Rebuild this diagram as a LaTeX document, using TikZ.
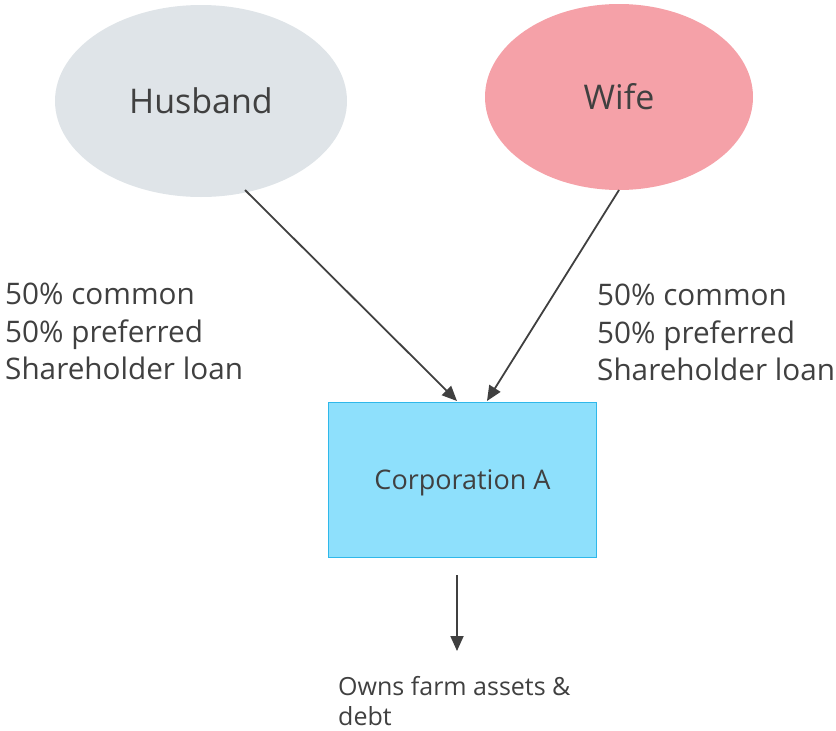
\documentclass[tikz,border=0pt]{standalone}
\usepackage{fontspec}
\setmainfont{Open Sans}
\usetikzlibrary{shapes.geometric,arrows.meta}
\definecolor{ink}{HTML}{404040}
\definecolor{husbandfill}{HTML}{DFE4E8}
\definecolor{wifefill}{HTML}{F5A1A8}
\definecolor{corpfill}{HTML}{8EE0FC}
\definecolor{corpline}{HTML}{2FB8EA}
\tikzset{
  party/.style={ellipse, inner sep=0pt, text=ink, font=\fontsize{34}{40}\selectfont},
  corp/.style={rectangle, fill=corpfill, draw=corpline, line width=1.2pt, inner sep=0pt,
    text=ink, text depth=0pt, font=\fontsize{27}{32}\selectfont},
  holding/.style={text=ink, align=left, anchor=north west, inner sep=0pt,
    font=\fontsize{29.7}{37.5}\selectfont},
  note/.style={text=ink, align=left, anchor=north west, inner sep=0pt,
    font=\fontsize{25}{30}\selectfont},
  link/.style={draw=ink, line width=1.8pt, -{Triangle[length=15pt,width=13pt]}}
}
\begin{document}
\begin{tikzpicture}[x=1pt,y=-1pt]
\useasboundingbox (0,0) rectangle (836,731);
% owners
\node[party, fill=husbandfill, minimum width=292pt, minimum height=192pt] (husband) at (201,101) {Husband};
\node[party, fill=wifefill, minimum width=268pt, minimum height=186pt] (wife) at (619,97) {Wife};
% company
\node[corp, minimum width=268pt, minimum height=155pt] (corp) at (462.5,480) {Corporation A};
% shareholdings
\node[holding] (lefthold) at (5,283) {50\% common\\50\% preferred\\Shareholder loan};
\node[holding] (righthold) at (597,284) {50\% common\\50\% preferred\\Shareholder loan};
% ownership links
\coordinate (hstart) at (245,190);
\coordinate (wstart) at (619,190);
\coordinate (hend) at (457,401);
\coordinate (wend) at (487,401);
\draw[link] (hstart) -- (hend);
\draw[link] (wstart) -- (wend);
% assets
\coordinate (dstart) at (457,575);
\coordinate (dend) at (457,651);
\draw[link] (dstart) -- (dend);
\node[note] (assets) at (338,676) {Owns farm assets \&\\debt};
\end{tikzpicture}
\end{document}
